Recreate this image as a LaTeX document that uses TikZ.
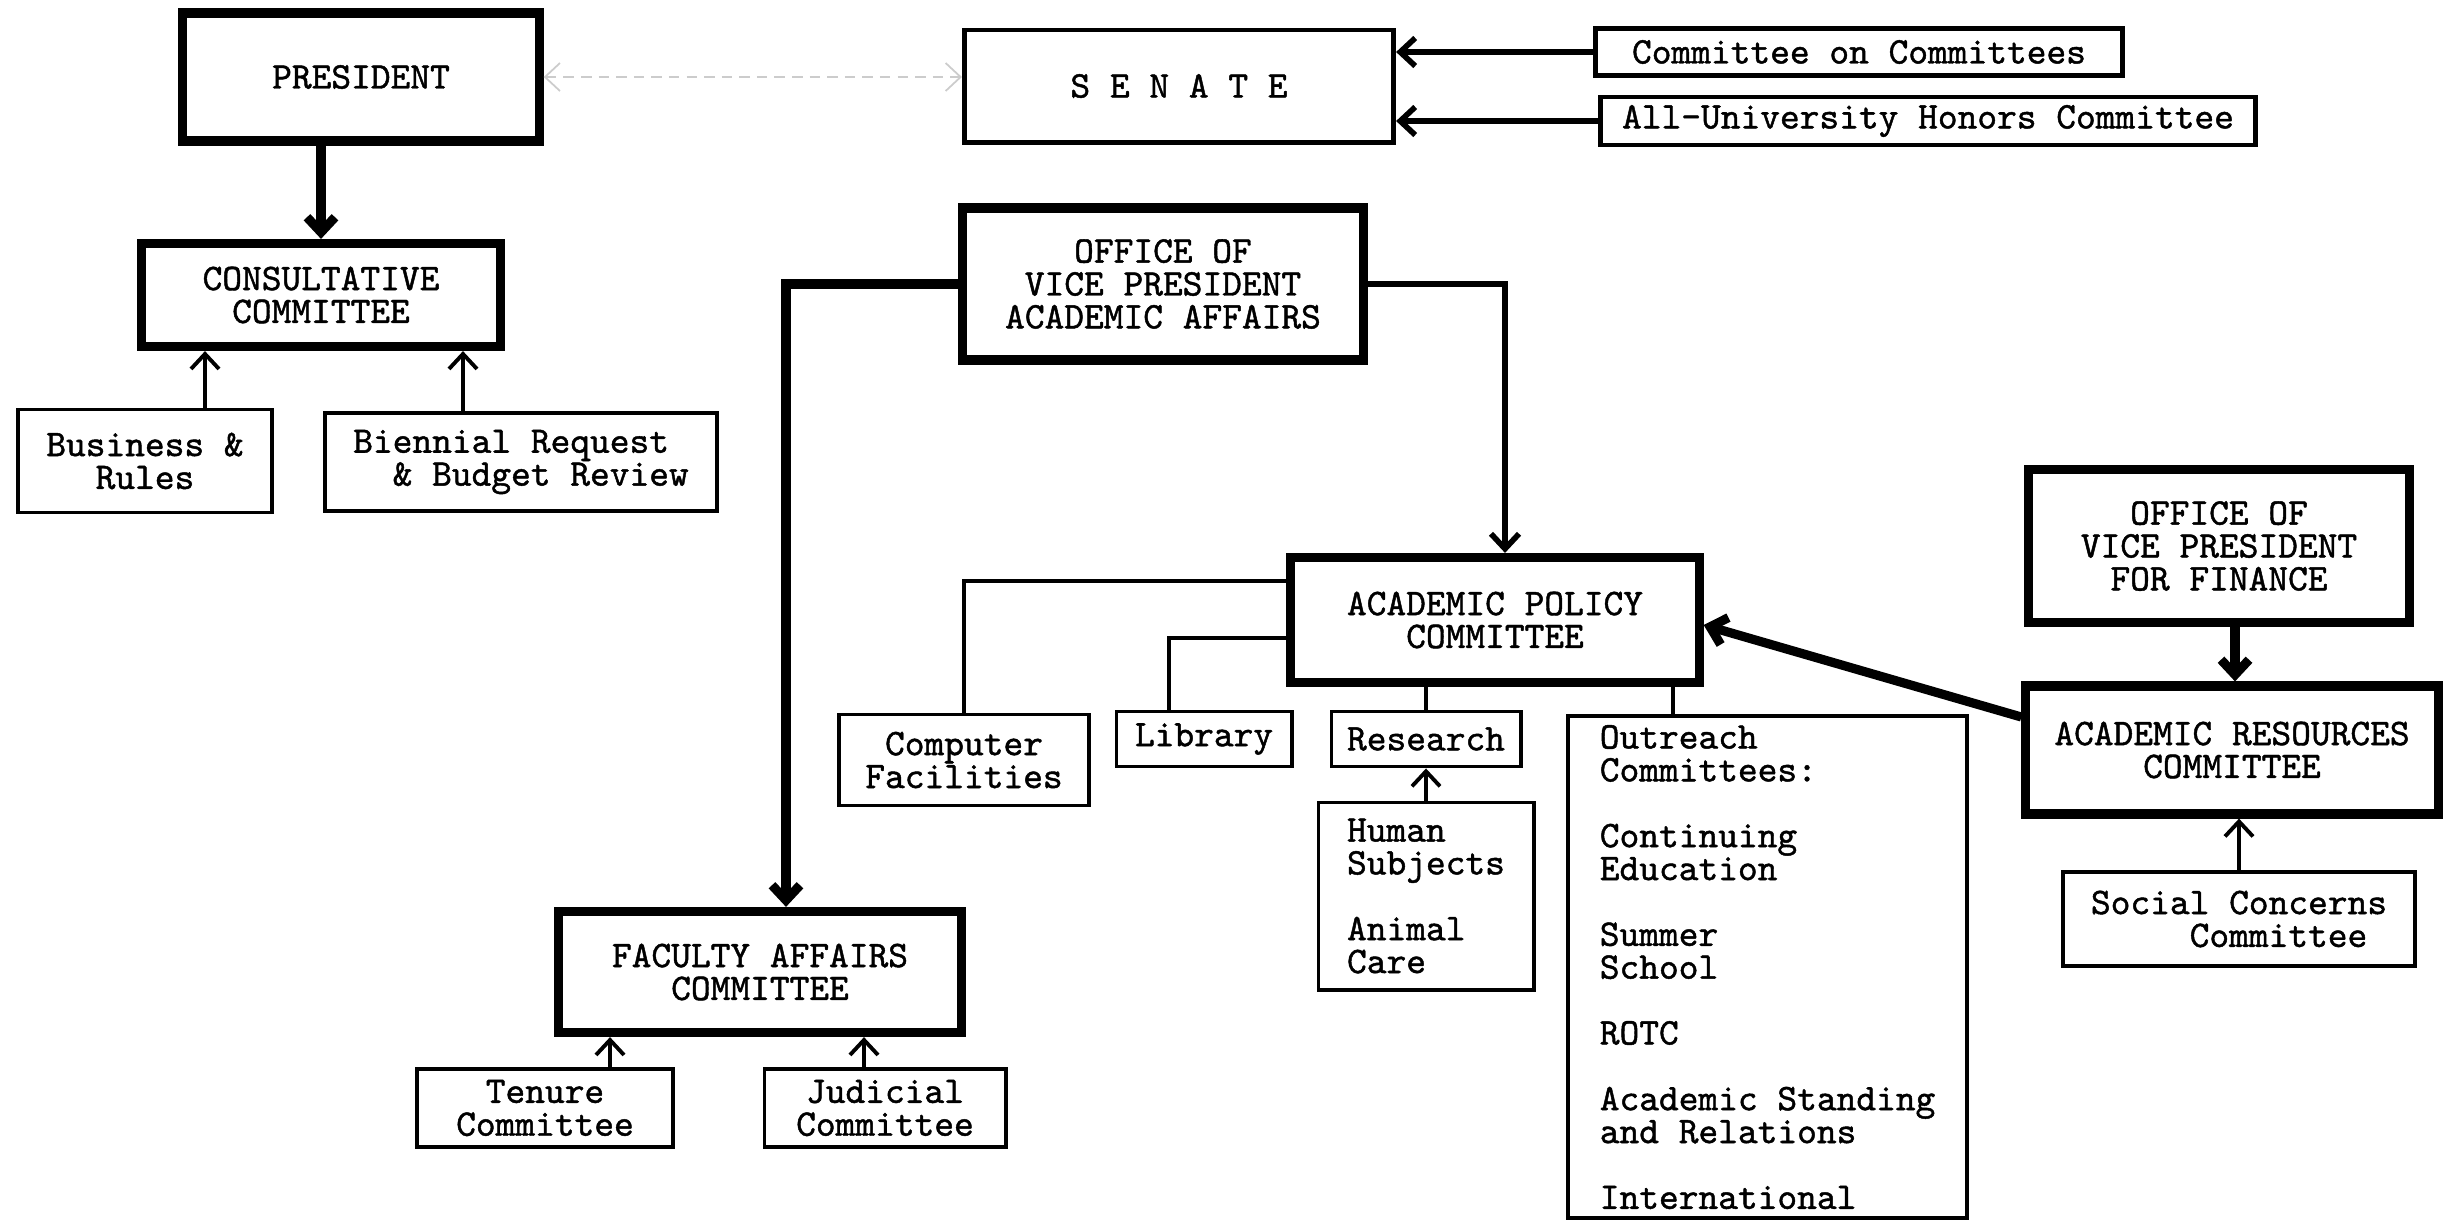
\documentclass[tikz,border=0pt]{standalone}
\usepackage{fontspec}
\setmainfont{Latin Modern Mono}[FakeBold=1.2]
\usepackage{tikz}
\usetikzlibrary{arrows.meta}

\begin{document}
\begin{tikzpicture}[x=.01cm, y=-.01cm,
  >={Straight Barb[length=1.5mm, width=2.8mm]},
  font=\fontsize{10.69}{9.35}\selectfont,
  heavybox/.style={draw, line width=2.6pt, align=center, inner sep=0pt},
  midbox/.style={draw, line width=1.4pt, align=center, inner sep=0pt},
  lightbox/.style={draw, line width=1.1pt, align=center, inner sep=0pt},
  heavyline/.style={line width=2.6pt},
  midline/.style={line width=1.6pt},
  lightline/.style={line width=1.1pt}]
\useasboundingbox (0,0) rectangle (2451,1220);
% top row
\node at (361,77) [name=pres, heavybox, minimum width=3.56cm, minimum height=1.28cm] {PRESIDENT};
\node at (1179,86) [name=senate, midbox, minimum width=4.29cm, minimum height=1.12cm] {S E N A T E};
\node at (1859,52) [name=coc, midbox, minimum width=5.27cm, minimum height=.47cm] {Committee on Committees};
\node at (1928,121) [name=auhc, midbox, minimum width=6.55cm, minimum height=.48cm] {All-University Honors Committee};
\draw [<->, gray!40, densely dashed, line width=.5pt] (pres.east) -- (pres.east -| senate.west);
\draw [->, midline] (coc.west) -- (coc.west -| senate.east);
\draw [->, midline] (auhc.west) -- (auhc.west -| senate.east);
% consultative committee
\node at (321,295) [name=consult, heavybox, minimum width=3.58cm, minimum height=1.03cm] {CONSULTATIVE\\COMMITTEE};
\node at (145,461) [name=business, lightbox, minimum width=2.53cm, minimum height=1.03cm] {Business \&\\Rules};
\node at (521,462) [name=biennial, lightbox, align=left, minimum width=3.92cm, minimum height=.98cm] {Biennial Request\\~~\& Budget Review};
\draw [->, heavyline] (pres.south -| consult.north) -- (consult.north);
\draw [->, lightline] (205,0 |- business.north) -- (205,0 |- consult.south);
\draw [->, lightline] (463,0 |- biennial.north) -- (463,0 |- consult.south);
% academic affairs
\node at (1163,284) [name=ovpaa, heavybox, minimum width=4cm, minimum height=1.52cm] {OFFICE OF\\VICE PRESIDENT\\ACADEMIC AFFAIRS};
\node at (1495,620) [name=apc, heavybox, minimum width=4.08cm, minimum height=1.25cm] {ACADEMIC POLICY\\COMMITTEE};
\node at (760,972) [name=fac, heavybox, minimum width=4.03cm, minimum height=1.21cm] {FACULTY AFFAIRS\\COMMITTEE};
\node at (545,1108) [name=tenure, lightbox, minimum width=2.55cm, minimum height=.78cm] {Tenure\\Committee};
\node at (885,1108) [name=judicial, lightbox, minimum width=2.41cm, minimum height=.78cm] {Judicial\\Committee};
\draw [->, heavyline] (ovpaa.west) -| (786,0 |- fac.north);
\draw [->, midline] (ovpaa.east) -| (1505,0 |- apc.north);
\draw [->, lightline] (610,0 |- tenure.north) -- (610,0 |- fac.south);
\draw [->, lightline] (864,0 |- judicial.north) -- (864,0 |- fac.south);
% policy subcommittees
\node at (964,760) [name=compfac, lightbox, minimum width=2.5cm, minimum height=.91cm] {Computer\\Facilities};
\node at (1204,739) [name=library, lightbox, minimum width=1.75cm, minimum height=.55cm] {Library};
\node at (1426,739) [name=research, lightbox, minimum width=1.89cm, minimum height=.55cm] {Research};
\node at (1426,896) [name=human, lightbox, align=left, minimum width=2.15cm, minimum height=1.87cm] {Human\\Subjects\\[9.35pt]Animal\\Care};
\node at (1566,714) [name=outreach, anchor=north west, lightbox, align=left, minimum width=3.99cm, minimum height=5.02cm] {Outreach\\Committees:\\[9.35pt]Continuing\\Education\\[9.35pt]Summer\\School\\[9.35pt]ROTC\\[9.35pt]Academic Standing\\and Relations\\[9.35pt]International};
\draw [lightline] (apc.west |- 0,581) -| (compfac.north);
\draw [lightline] (apc.west |- 0,638) -| (1169,0 |- library.north);
\draw [lightline] (research.north |- apc.south) -- (research.north);
\draw [->, lightline] (human.north) -- (research.south);
\draw [lightline] (1673,0 |- apc.south) -- (1673,0 |- outreach.north);
% finance
\node at (2219,546) [name=ovpf, heavybox, minimum width=3.8cm, minimum height=1.53cm] {OFFICE OF\\VICE PRESIDENT\\FOR FINANCE};
\node at (2232,750) [name=arc, heavybox, minimum width=4.12cm, minimum height=1.28cm] {ACADEMIC RESOURCES\\COMMITTEE};
\node at (2239,919) [name=social, lightbox, align=left, minimum width=3.52cm, minimum height=.94cm] {Social Concerns\\~~~~~Committee};
\draw [->, heavyline] (2235,0 |- ovpf.south) -- (2235,0 |- arc.north);
\draw [->, heavyline] (arc.west |- 0,717) -- (apc.east |- 0,625);
\draw [->, lightline] (social.north) -- (social.north |- arc.south);
\end{tikzpicture}
\end{document}
